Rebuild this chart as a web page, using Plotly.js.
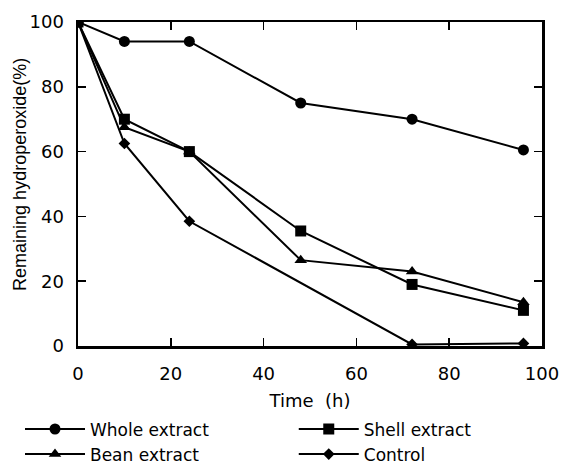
<!DOCTYPE html>
<html>
<head>
<meta charset="utf-8">
<script src="https://cdn.plot.ly/plotly-3.0.1.min.js"></script>
<style>html,body{margin:0;padding:0;background:#fff;}#chart{width:562px;height:464px;}</style>
</head>
<body>
<div id="chart"></div>
<script>
const timeH = [0, 10, 24, 48, 72, 96];
const controlTime = [0, 10, 24, 72, 96];
const wholeExtract = [100, 94, 94, 75, 70, 60.5];
const shellExtract = [100, 70, 60, 35.5, 19, 11];
const beanExtract = [100, 67.5, 60, 26.5, 23, 13.5];
const control = [100, 62.5, 38.5, 0.5, 0.8];
const seriesNames = ['Whole extract', 'Shell extract', 'Bean extract', 'Control'];
const xTicks = [0, 20, 40, 60, 80, 100];
const yTicks = [0, 20, 40, 60, 80, 100];
const yTitle = 'Remaining hydroperoxide(%)';
const xTitle = 'Time  (h)';

const FONT = 'DejaVu Sans, Liberation Sans, Arial, sans-serif';
const FONT2 = 'Liberation Sans, Arial, sans-serif';
const line = {color: '#000', width: 2};
const traces = [
  {x: timeH, y: wholeExtract, name: seriesNames[0], mode: 'lines+markers', line: line, legend: 'legend',
   marker: {symbol: 'circle', size: 11, color: '#000'}},
  {x: timeH, y: shellExtract, name: seriesNames[1], mode: 'lines+markers', line: line, legend: 'legend2',
   marker: {symbol: 'square', size: 11, color: '#000'}},
  {x: timeH, y: beanExtract, name: seriesNames[2], mode: 'lines+markers', line: line, legend: 'legend',
   marker: {symbol: 'triangle-up', size: 11, color: '#000'}},
  {x: controlTime, y: control, name: seriesNames[3], mode: 'lines+markers', line: line, legend: 'legend2',
   marker: {symbol: 'diamond', size: 9, color: '#000'}}
];

const axisCommon = {
  showgrid: false, zeroline: false, showline: true, linecolor: '#000', linewidth: 2.5,
  mirror: 'ticks', ticks: 'inside', ticklen: 8, tickwidth: 1.5, tickcolor: '#000',
  tickfont: {family: FONT, size: 18, color: '#000'}
};

const legendCommon = {
  orientation: 'v', xanchor: 'left', yanchor: 'top', tracegroupgap: 0,
  font: {family: FONT, size: 17, color: '#000'}, bgcolor: 'rgba(0,0,0,0)', itemwidth: 60
};

const layout = {
  width: 562, height: 464,
  margin: {l: 78, r: 20, t: 22, b: 118, autoexpand: false},
  paper_bgcolor: '#fff', plot_bgcolor: '#fff',
  font: {family: FONT, color: '#000'},
  xaxis: Object.assign({}, axisCommon, {
    range: [0, 100], tickvals: xTicks, ticktext: xTicks.map(String), ticklabelstandoff: 10,
    title: {text: xTitle, font: {family: FONT, size: 18, color: '#000'}, standoff: 12}
  }),
  yaxis: Object.assign({}, axisCommon, {
    range: [0, 100], tickvals: yTicks, ticktext: yTicks.map(String), ticklabelstandoff: 8
  }),
  annotations: [{
    text: yTitle, textangle: -90, xref: 'paper', yref: 'paper', x: -0.125, y: 0.528,
    xanchor: 'center', yanchor: 'middle', showarrow: false,
    font: {family: FONT2, size: 18, color: '#000'}
  }],
  showlegend: true,
  legend: Object.assign({}, legendCommon, {x: -0.125, y: -0.202}),
  legend2: Object.assign({}, legendCommon, {x: 0.465, y: -0.202})
};

Plotly.newPlot('chart', traces, layout, {displayModeBar: false, staticPlot: true});
</script>
</body>
</html>
